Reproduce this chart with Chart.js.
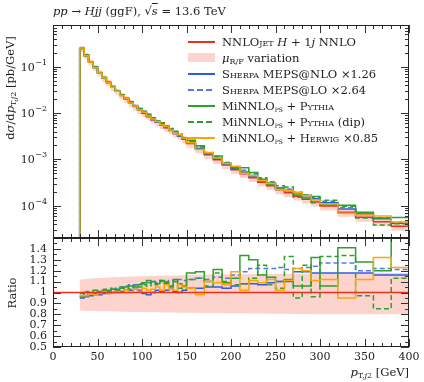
<!DOCTYPE html>
<html>
<head>
<meta charset="utf-8">
<script src="https://cdn.jsdelivr.net/npm/chart.js@4.4.1/dist/chart.umd.min.js"></script>
<style>
  body { margin: 0; background: #fff; }
  #wrap { position: relative; width: 424px; height: 382px; font-family: "DejaVu Serif", serif; color: #222; overflow: hidden; }
  canvas { position: absolute; left: 0; }
  .t { position: absolute; white-space: nowrap; font-size: 11.5px; line-height: 12px; }
  .sc { font-variant: small-caps; }
  .sub { font-size: 8px; vertical-align: -2px; }
  .smp { position: absolute; left: 188px; width: 27px; height: 1.5px; }
</style>
</head>
<body>
<div id="wrap">
  <canvas id="top" width="424" height="240" style="top:0"></canvas>
  <canvas id="ratio" width="424" height="142" style="top:238px"></canvas>

  <div class="t" style="left:53px;top:5px;font-size:11.5px"><i>pp</i> → <i>Hjj</i> (ggF), √<span style="text-decoration:overline"><i>s</i></span> = 13.6 TeV</div>

  <div class="t" style="left:12px;top:88px;transform:translate(-50%,-50%) rotate(-90deg)">d<i>σ</i>/d<i>p</i><span class="sub">T,<i>j</i>2</span> [pb/GeV]</div>
  <div class="t" style="left:12px;top:293px;transform:translate(-50%,-50%) rotate(-90deg)">Ratio</div>
  <div class="t" style="right:15px;top:366px"><i>p</i><span class="sub">T,<i>j</i>2</span> [GeV]</div>

  <!-- legend -->
  <div class="smp" style="top:41px;background:#e8321e"></div>
  <div class="t" style="left:222px;top:36px">NNLO<span class="sc">jet</span> <i>H</i> + 1<i>j</i> NNLO</div>
  <div class="smp" style="top:53px;height:9px;background:rgba(250,128,114,0.35)"></div>
  <div class="t" style="left:222px;top:52px"><i>μ</i><span class="sub">R/F</span> variation</div>
  <div class="smp" style="top:73px;background:#2b5ce6"></div>
  <div class="t" style="left:222px;top:68px"><span class="sc">Sherpa</span> MEPS@NLO ×1.26</div>
  <div class="smp" style="top:89px;background:repeating-linear-gradient(90deg,#5577ee 0 6px,transparent 6px 9px)"></div>
  <div class="t" style="left:222px;top:84px"><span class="sc">Sherpa</span> MEPS@LO ×2.64</div>
  <div class="smp" style="top:105px;background:#2ca02c"></div>
  <div class="t" style="left:222px;top:100px">MiNNLO<span class="sub sc">ps</span> + <span class="sc">Pythia</span></div>
  <div class="smp" style="top:121px;background:repeating-linear-gradient(90deg,#2ca02c 0 6px,transparent 6px 9px)"></div>
  <div class="t" style="left:222px;top:116px">MiNNLO<span class="sub sc">ps</span> + <span class="sc">Pythia</span> (dip)</div>
  <div class="smp" style="top:137px;background:#ffa500"></div>
  <div class="t" style="left:222px;top:132px">MiNNLO<span class="sub sc">ps</span> + <span class="sc">Herwig</span> ×0.85</div>
</div>

<script>
// bin edges in GeV
const binEdges = [30, 35, 40, 45, 50, 55, 60, 65, 70, 75, 80, 85, 90, 95, 100, 105, 110, 115, 120, 125, 130, 135, 140, 145,
  150, 160, 170, 180, 190, 200, 210, 220, 230, 240, 250, 260, 270, 280, 290, 300, 320, 340, 360, 380, 400];

// NNLOJET H+1j NNLO, pb/GeV
const nnlojet = [0.251, 0.178, 0.129, 0.0977, 0.0741, 0.0575, 0.0457, 0.0363, 0.0295, 0.0240, 0.0200, 0.0166,
  0.0138, 0.0117, 0.0100, 0.0085, 0.0072, 0.0063, 0.0055, 0.0048, 0.0042, 0.0036, 0.0032, 0.00275,
  0.00219, 0.00166, 0.00126, 0.00098, 0.00076, 0.00060, 0.00049, 0.00040, 0.00032, 0.00027, 0.00022,
  0.00019, 0.00016, 0.000138, 0.000120, 0.000098, 0.000072, 0.000056, 0.000045, 0.000036];

// scale band, relative to NNLOJET
const bandLow = [0.835, 0.833, 0.832, 0.83, 0.829, 0.828, 0.827, 0.826, 0.825, 0.824, 0.823, 0.822, 0.821, 0.82,
  0.82, 0.819, 0.818, 0.818, 0.817, 0.817, 0.816, 0.816, 0.815, 0.815, 0.814, 0.813, 0.812, 0.811, 0.81,
  0.81, 0.809, 0.808, 0.807, 0.806, 0.805, 0.804, 0.803, 0.802, 0.801, 0.80, 0.80, 0.80, 0.80, 0.80];
const bandHigh = [1.12, 1.125, 1.128, 1.13, 1.133, 1.135, 1.138, 1.14, 1.142, 1.143, 1.145, 1.146, 1.147, 1.148,
  1.15, 1.151, 1.152, 1.153, 1.154, 1.155, 1.156, 1.157, 1.158, 1.16, 1.162, 1.163, 1.165, 1.166, 1.167,
  1.168, 1.168, 1.169, 1.17, 1.17, 1.171, 1.172, 1.172, 1.173, 1.174, 1.175, 1.176, 1.177, 1.178, 1.18];

// ratios to NNLOJET
const sherpaNlo = [0.95, 0.96, 0.97, 0.98, 0.98, 0.99, 0.99, 1.00, 1.00, 1.01, 1.02, 1.02, 1.03, 1.02, 0.99,
  0.98, 1.00, 1.02, 1.01, 1.02, 1.03, 1.01, 1.00, 1.02, 1.04, 1.04, 1.05, 1.05, 1.04, 1.06, 1.08, 1.08,
  1.07, 1.09, 1.10, 1.10, 1.19, 1.19, 1.18, 1.18, 1.18, 1.18, 1.16, 1.16];
const sherpaLo = [0.97, 0.98, 0.99, 0.99, 1.00, 1.01, 1.02, 1.03, 1.04, 1.05, 1.06, 1.07, 1.07, 1.08, 1.08,
  1.09, 1.10, 1.09, 1.11, 1.10, 1.11, 1.10, 1.12, 1.11, 1.12, 1.13, 1.12, 1.14, 1.13, 1.16, 1.19, 1.22,
  1.22, 1.22, 1.23, 1.21, 1.22, 1.23, 1.24, 1.27, 1.27, 1.20, 1.22, 1.21];
const minnloPythia = [0.96, 1.00, 0.99, 1.02, 1.00, 1.02, 1.01, 1.03, 1.02, 1.04, 1.05, 1.06, 1.05, 1.07,
  1.09, 1.11, 1.10, 1.08, 1.11, 1.09, 1.05, 1.12, 1.04, 1.06, 1.18, 1.19, 1.10, 1.21, 1.09, 1.13, 1.34,
  1.30, 1.16, 1.14, 1.10, 1.12, 1.06, 1.06, 1.32, 1.06, 1.41, 1.28, 1.20, 1.55];
const minnloDip = [0.99, 1.01, 1.00, 0.99, 1.01, 1.03, 1.02, 1.04, 1.03, 1.05, 1.04, 1.03, 1.06, 1.05, 1.07,
  1.06, 1.09, 1.07, 1.10, 1.08, 1.06, 1.10, 1.08, 1.07, 1.12, 1.13, 1.06, 1.18, 1.10, 1.07, 1.08, 1.13,
  1.25, 1.07, 1.04, 1.33, 0.95, 1.25, 0.96, 1.33, 1.34, 0.97, 0.85, 1.13];
const minnloHerwig = [0.97, 0.97, 0.99, 0.98, 0.99, 1.01, 0.99, 1.00, 1.01, 1.00, 1.02, 1.00, 1.03, 1.01,
  1.04, 1.02, 1.03, 1.05, 1.02, 1.07, 1.03, 1.02, 1.07, 1.05, 1.04, 0.98, 1.10, 1.09, 1.07, 1.19, 1.02,
  1.11, 1.09, 1.12, 1.02, 1.11, 1.22, 1.20, 1.11, 1.12, 0.95, 1.12, 1.32, 1.23];

const xMajor = [0, 50, 100, 150, 200, 250, 300, 350, 400];
const yDecades = [1e-1, 1e-2, 1e-3, 1e-4];
const yMin = 2e-5, yMax = 0.8;

const RED = "#e8321e", BLUE = "#2b5ce6", BLUE2 = "#5577ee", GREEN = "#2ca02c", ORANGE = "#ffa500";
const BAND = "rgba(250,128,114,0.35)";
const FONT = "'DejaVu Serif', serif";

function steps(vals, lead) {
  const pts = [];
  if (lead !== undefined) pts.push({ x: binEdges[0], y: lead });
  vals.forEach((v, i) => pts.push({ x: binEdges[i], y: v }));
  pts.push({ x: binEdges[binEdges.length - 1], y: vals[vals.length - 1] });
  return pts;
}
const times = (r) => r.map((v, i) => v * nnlojet[i]);

function line(data, color, order, dash) {
  return {
    data: data, borderColor: color, borderWidth: 1.5, borderDash: dash || [],
    stepped: true, pointRadius: 0, fill: false, order: order,
  };
}

// no extra room for the outermost tick labels
function noPad(s) {
  s.paddingTop = 0; s.paddingBottom = 0; s.paddingLeft = 0; s.paddingRight = 0;
}

// ticks inside the frame, Rivet style
function frameTicks(chart, xs, ys) {
  const ctx = chart.ctx, ca = chart.chartArea;
  const sx = chart.scales.x, sy = chart.scales.y;
  ctx.save();
  ctx.strokeStyle = "#333";
  ctx.lineWidth = 1;
  ctx.beginPath();
  xs.forEach(([v, len]) => {
    const px = Math.round(sx.getPixelForValue(v)) + 0.5;
    ctx.moveTo(px, ca.bottom); ctx.lineTo(px, ca.bottom - len);
    ctx.moveTo(px, ca.top); ctx.lineTo(px, ca.top + len);
  });
  ys.forEach(([v, len]) => {
    const py = Math.round(sy.getPixelForValue(v)) + 0.5;
    ctx.moveTo(ca.left, py); ctx.lineTo(ca.left + len, py);
    ctx.moveTo(ca.right, py); ctx.lineTo(ca.right - len, py);
  });
  ctx.stroke();
  ctx.strokeStyle = "#222";
  ctx.strokeRect(ca.left + 0.5, ca.top + 0.5, ca.right - ca.left - 1, ca.bottom - ca.top - 1);
  ctx.restore();
}

const xTickList = [];
for (let v = 0; v <= 400; v += 10) xTickList.push([v, xMajor.includes(v) ? 8 : 4]);

const logTickList = [];
yDecades.concat([1]).forEach((d) => {
  for (let k = 1; k <= 9; k++) {
    const v = (d / 10) * k;
    if (v >= yMin && v <= yMax) logTickList.push([v, k === 1 ? 8 : 4]);
  }
});

const ratioTickList = [];
for (let i = 0; i <= 20; i++) {
  const v = 0.5 + i * 0.05;
  ratioTickList.push([v, i % 2 === 0 ? 8 : 4]);
}

const baseFont = { family: FONT, size: 11 };

new Chart(document.getElementById("top"), {
  type: "line",
  data: {
    datasets: [
      Object.assign(line(steps(times(bandLow)), "rgba(0,0,0,0)", 10), { borderWidth: 0 }),
      Object.assign(line(steps(times(bandHigh)), "rgba(0,0,0,0)", 9), { borderWidth: 0, fill: "-1", backgroundColor: BAND }),
      line(steps(nnlojet, yMin), RED, 8),
      line(steps(times(sherpaNlo), yMin), BLUE, 7),
      line(steps(times(sherpaLo), yMin), BLUE2, 6, [5, 3]),
      line(steps(times(minnloPythia), yMin), GREEN, 5),
      line(steps(times(minnloDip), yMin), GREEN, 4, [5, 3]),
      line(steps(times(minnloHerwig), yMin), ORANGE, 3),
    ],
  },
  options: {
    responsive: false, animation: false, events: [],
    layout: { padding: { top: 25, right: 15, bottom: 2, left: 0 } },
    plugins: { legend: { display: false }, tooltip: { enabled: false } },
    scales: {
      x: { type: "linear", min: 0, max: 400, display: false },
      y: {
        type: "logarithmic", min: yMin, max: yMax,
        grid: { display: false }, border: { display: false },
        ticks: { display: false },
        afterFit: (s) => { s.width = 53; noPad(s); },
      },
    },
  },
  plugins: [{
    id: "frame",
    afterDraw(chart) {
      frameTicks(chart, xTickList, logTickList);
      const ctx = chart.ctx, ca = chart.chartArea, sy = chart.scales.y;
      ctx.save();
      ctx.fillStyle = "#222";
      ctx.textBaseline = "middle";
      yDecades.forEach((d) => {
        const py = sy.getPixelForValue(d);
        const sup = "\u2212" + Math.round(-Math.log10(d));
        ctx.font = "8px " + FONT;
        const w = ctx.measureText(sup).width;
        const right = ca.left - 6;
        ctx.textAlign = "left";
        ctx.fillText(sup, right - w, py - 4);
        ctx.font = "11px " + FONT;
        ctx.textAlign = "right";
        ctx.fillText("10", right - w - 0.5, py + 1);
      });
      ctx.restore();
    },
  }],
});

new Chart(document.getElementById("ratio"), {
  type: "line",
  data: {
    datasets: [
      Object.assign(line(steps(bandLow), "rgba(0,0,0,0)", 10), { borderWidth: 0 }),
      Object.assign(line(steps(bandHigh), "rgba(0,0,0,0)", 9), { borderWidth: 0, fill: "-1", backgroundColor: BAND }),
      line(steps(sherpaNlo), BLUE, 7),
      line(steps(sherpaLo), BLUE2, 6, [5, 3]),
      line(steps(minnloPythia), GREEN, 5),
      line(steps(minnloDip), GREEN, 4, [5, 3]),
      line(steps(minnloHerwig), ORANGE, 3),
      line([{ x: 0, y: 1 }, { x: 400, y: 1 }], RED, 1),
    ],
  },
  options: {
    responsive: false, animation: false, events: [],
    layout: { padding: { top: 0, right: 15, bottom: 0, left: 0 } },
    plugins: { legend: { display: false }, tooltip: { enabled: false } },
    scales: {
      x: {
        type: "linear", min: 0, max: 400,
        grid: { display: false, drawTicks: false }, border: { display: false },
        ticks: { stepSize: 50, padding: 4, color: "#222", font: baseFont, maxRotation: 0 },
        afterFit: (s) => { s.height = 33; noPad(s); },
      },
      y: {
        type: "linear", min: 0.5, max: 1.5,
        grid: { display: false, drawTicks: false }, border: { display: false },
        ticks: {
          stepSize: 0.1, autoSkip: false, padding: 6, color: "#222", font: baseFont,
          callback: (v) => (v > 1.45 ? "" : (v.toFixed(1) === "1.0" ? "1" : v.toFixed(1))),
        },
        afterFit: (s) => { s.width = 53; noPad(s); },
      },
    },
  },
  plugins: [{
    id: "frame",
    afterDraw(chart) { frameTicks(chart, xTickList, ratioTickList); },
  }],
});
</script>
</body>
</html>
